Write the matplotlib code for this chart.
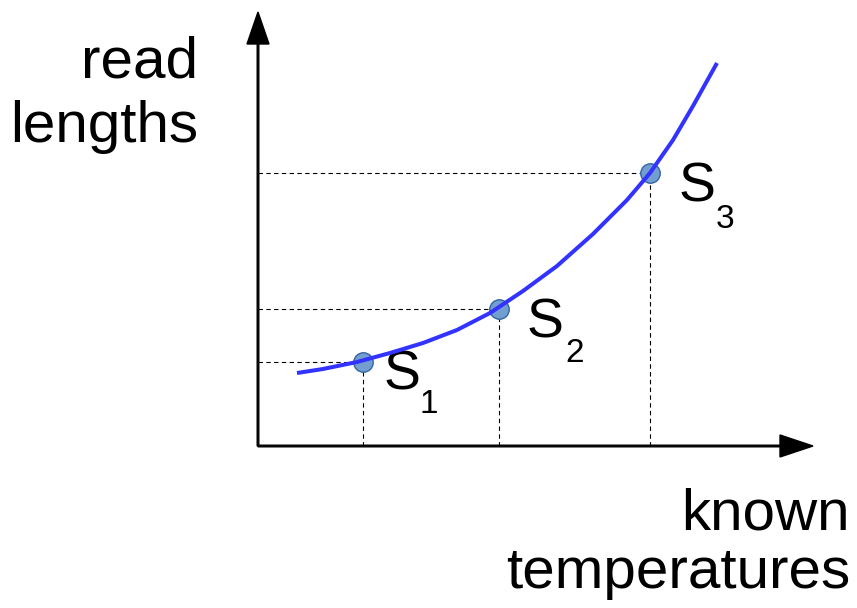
#!/usr/bin/env python3
# -*- coding: utf-8 -*-

"""
calibration sketch: read lengths vs known temperatures
"""

import matplotlib
matplotlib.use('Agg')
import matplotlib.pyplot as plt

# calibration curve (origin at the axes corner)
curve_temp = [39, 65, 99, 132, 165, 199, 232, 265, 299, 335, 369, 392, 415, 435, 459]
curve_len = [73, 77, 84, 93, 103, 116, 133, 155, 180, 212, 246, 273, 306, 340, 383]

# measured samples
sample_names = ['1', '2', '3']
sample_temp = [105, 241, 392]
sample_len = [84, 137, 273]

# label placement (S letter and subscript)
s_pos = [(126, 56), (269, 108), (421, 244)]
sub_pos = [(161, 33), (307, 84), (458, 218)]

plt.rcParams['font.family'] = ['Liberation Sans', 'DejaVu Sans']

fig = plt.figure(figsize=(8.57, 6.08), dpi=100)
ax = fig.add_axes([0, 0, 1, 1])
ax.set_xlim(-258, 857 - 258)
ax.set_ylim(446 - 608, 446)
ax.axis('off')

# axes with arrow heads
ax.arrow(0, 0, 555, 0, width=1.6, head_width=22, head_length=33,
         length_includes_head=True, color='black', zorder=2)
ax.arrow(0, 0, 0, 434, width=1.6, head_width=22, head_length=32,
         length_includes_head=True, color='black', zorder=2)

# dashed guide lines
for t, l in zip(sample_temp, sample_len):
    ax.plot([0, t], [l, l], color='black', lw=0.8, ls=(0, (4, 3)), zorder=1)
    ax.plot([t, t], [0, l], color='black', lw=0.8, ls=(0, (4, 3)), zorder=1)

ax.plot(sample_temp, sample_len, 'o', ms=14, mfc='#729fcf', mec='#3465a4',
        mew=1.0, zorder=3)
ax.plot(curve_temp, curve_len, color='#3333ff', lw=2.9,
        solid_capstyle='butt', solid_joinstyle='round', zorder=4)

# sample labels
for name, sp, bp in zip(sample_names, s_pos, sub_pos):
    ax.text(sp[0], sp[1], 'S', fontsize=40, ha='left', va='baseline')
    ax.text(bp[0], bp[1], name, fontsize=24, ha='left', va='baseline')

# axis titles
ax.text(-60, 446 - 77, 'read', fontsize=42, ha='right', va='baseline')
ax.text(-60, 446 - 142, 'lengths', fontsize=42, ha='right', va='baseline')
ax.text(850 - 258, 446 - 530, 'known', fontsize=42, ha='right', va='baseline')
ax.text(850 - 258, 446 - 588, 'temperatures', fontsize=42, ha='right', va='baseline')

plt.savefig('out.png', dpi=100)
plt.close()
